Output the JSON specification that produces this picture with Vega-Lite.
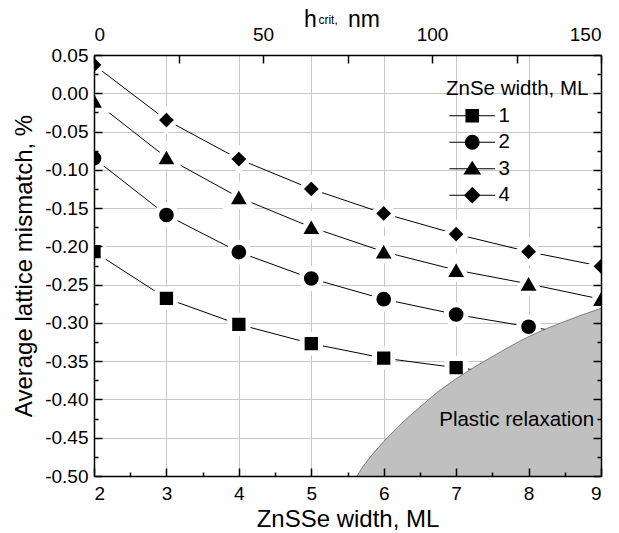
{
  "$schema": "https://vega.github.io/schema/vega-lite/v6.json",
  "width": 507,
  "height": 421,
  "autosize": {"type": "none"},
  "padding": {"left": 94, "top": 55, "right": 18, "bottom": 57},
  "background": "white",
  "config": {
    "view": {"stroke": null},
    "font": "Liberation Sans",
    "axis": {
      "domainColor": "black", "domainWidth": 1.5,
      "tickColor": "black", "tickWidth": 1.5,
      "labelColor": "black", "titleColor": "black",
      "labelFont": "Liberation Sans", "titleFont": "Liberation Sans",
      "labelFontSize": 19, "titleFontSize": 24, "titleFontWeight": "normal",
      "gridColor": "#c8c8c8", "gridWidth": 1
    },
    "text": {"font": "Liberation Sans", "color": "black"}
  },
  "datasets": {
    "series": [
      {"w": 2, "m": -0.207, "s": "1"}, {"w": 3, "m": -0.268, "s": "1"}, {"w": 4, "m": -0.302, "s": "1"}, {"w": 5, "m": -0.327, "s": "1"},
      {"w": 6, "m": -0.346, "s": "1"}, {"w": 7, "m": -0.3585, "s": "1"}, {"w": 8, "m": -0.369, "s": "1"}, {"w": 9, "m": -0.377, "s": "1"},
      {"w": 2, "m": -0.085, "s": "2"}, {"w": 3, "m": -0.159, "s": "2"}, {"w": 4, "m": -0.2075, "s": "2"}, {"w": 5, "m": -0.242, "s": "2"},
      {"w": 6, "m": -0.269, "s": "2"}, {"w": 7, "m": -0.289, "s": "2"}, {"w": 8, "m": -0.305, "s": "2"}, {"w": 9, "m": -0.32, "s": "2"},
      {"w": 2, "m": -0.01, "s": "3"}, {"w": 3, "m": -0.084, "s": "3"}, {"w": 4, "m": -0.136, "s": "3"}, {"w": 5, "m": -0.175, "s": "3"},
      {"w": 6, "m": -0.207, "s": "3"}, {"w": 7, "m": -0.231, "s": "3"}, {"w": 8, "m": -0.249, "s": "3"}, {"w": 9, "m": -0.269, "s": "3"},
      {"w": 2, "m": 0.037, "s": "4"}, {"w": 3, "m": -0.035, "s": "4"}, {"w": 4, "m": -0.086, "s": "4"}, {"w": 5, "m": -0.125, "s": "4"},
      {"w": 6, "m": -0.157, "s": "4"}, {"w": 7, "m": -0.184, "s": "4"}, {"w": 8, "m": -0.207, "s": "4"}, {"w": 9, "m": -0.226, "s": "4"}
    ],
    "relax": [
      {"w": 5.63, "m": -0.5}, {"w": 5.72, "m": -0.487}, {"w": 6.0, "m": -0.455}, {"w": 6.25, "m": -0.431},
      {"w": 6.5, "m": -0.41}, {"w": 6.75, "m": -0.39}, {"w": 7.0, "m": -0.373}, {"w": 7.5, "m": -0.344},
      {"w": 8.0, "m": -0.318}, {"w": 8.5, "m": -0.298}, {"w": 9.0, "m": -0.281}
    ],
    "htop": [{"h": 0}, {"h": 150}]
  },
  "layer": [
    {
      "data": {"name": "series"},
      "layer": [
        {
          "mark": {"type": "line", "color": "black", "strokeWidth": 1, "clip": true},
          "encoding": {
            "x": {"field": "w", "type": "quantitative", "scale": {"domain": [2, 9], "nice": false, "zero": false},
                  "axis": {"orient": "bottom", "values": [3, 4, 5, 6, 7, 8], "grid": true, "domain": false, "ticks": false, "labels": false, "title": null, "zindex": 0}},
            "y": {"field": "m", "type": "quantitative", "scale": {"domain": [-0.5, 0.05], "nice": false, "zero": false},
                  "axis": {"orient": "left", "values": [-0.45, -0.4, -0.35, -0.3, -0.25, -0.2, -0.15, -0.1, -0.05, 0], "grid": true, "domain": false, "ticks": false, "labels": false, "title": null, "zindex": 0}},
            "detail": {"field": "s"}
          }
        },
        {
          "mark": {"type": "point", "filled": true, "fill": "black", "stroke": "white", "strokeWidth": 5, "opacity": 1, "size": 400, "clip": true},
          "encoding": {
            "x": {"field": "w", "type": "quantitative", "scale": {"domain": [2, 9], "nice": false, "zero": false},
                  "axis": {"orient": "bottom", "values": [2, 3, 4, 5, 6, 7, 8, 9], "grid": false, "tickSize": -8, "labelPadding": 16, "title": "ZnSSe width, ML", "titlePadding": 4, "zindex": 1}},
            "y": {"field": "m", "type": "quantitative", "scale": {"domain": [-0.5, 0.05], "nice": false, "zero": false},
                  "axis": {"orient": "left", "values": [-0.5, -0.45, -0.4, -0.35, -0.3, -0.25, -0.2, -0.15, -0.1, -0.05, 0, 0.05], "grid": false, "tickSize": -8, "labelPadding": 14,
                           "labelExpr": "replace(format(datum.value, '.2f'), '\u2212', '-')", "title": "Average lattice mismatch, %", "titlePadding": 8, "zindex": 1}},
            "shape": {"field": "s", "type": "nominal", "legend": null,
                      "scale": {"domain": ["1", "2", "3", "4"],
                                "range": ["M-0.915,-0.915H0.915V0.915H-0.915Z",
                                          "M0.985,0A0.985,0.985,0,1,1,-0.985,0A0.985,0.985,0,1,1,0.985,0Z",
                                          "M0,-1.18L1.22,0.93L-1.22,0.93Z",
                                          "M0,-1.09L1.09,0L0,1.09L-1.09,0Z"]}}
          }
        },
        {
          "data": {"name": "relax"},
          "mark": {"type": "area", "fill": "#c0c0c0", "opacity": 1, "fillOpacity": 1, "interpolate": "monotone", "clip": true,
                   "line": {"stroke": "#666666", "strokeWidth": 0.8, "interpolate": "monotone"}},
          "encoding": {
            "x": {"field": "w", "type": "quantitative", "scale": {"domain": [2, 9], "nice": false, "zero": false},
                  "axis": {"orient": "bottom", "values": [2.5, 3.5, 4.5, 5.5, 6.5, 7.5, 8.5], "grid": false, "domain": false, "labels": false, "tickSize": -4, "title": null, "zindex": 1}},
            "y": {"field": "m", "type": "quantitative", "scale": {"domain": [-0.5, 0.05], "nice": false, "zero": false},
                  "axis": {"orient": "left", "values": [-0.475, -0.425, -0.375, -0.325, -0.275, -0.225, -0.175, -0.125, -0.075, -0.025, 0.025], "grid": false, "domain": false, "labels": false, "tickSize": -4, "title": null, "zindex": 1}},
            "y2": {"datum": -0.5}
          }
        },
        {
          "mark": {"type": "point", "filled": false, "fill": "black", "stroke": "black", "strokeWidth": 1.2, "opacity": 0},
          "encoding": {
            "x": {"field": "w", "type": "quantitative", "scale": {"domain": [2, 9], "nice": false, "zero": false}, "axis": null},
            "y": {"field": "m", "type": "quantitative", "scale": {"domain": [-0.5, 0.05], "nice": false, "zero": false},
                  "axis": {"orient": "right", "values": [-0.5, -0.45, -0.4, -0.35, -0.3, -0.25, -0.2, -0.15, -0.1, -0.05, 0, 0.05], "grid": false, "labels": false, "tickSize": -8, "title": null, "zindex": 1}},
            "shape": {"field": "s", "type": "nominal",
                      "scale": {"domain": ["1", "2", "3", "4"],
                                "range": ["M-3.5,0H3.5M-0.95,-0.95H0.95V0.95H-0.95Z",
                                          "M-3.5,0H3.5M1.05,0A1.05,1.05,0,1,1,-1.05,0A1.05,1.05,0,1,1,1.05,0Z",
                                          "M-3.5,0H3.5M0,-1.05L1.2,0.8L-1.2,0.8Z",
                                          "M-3.5,0H3.5M0,-1.15L1.15,0L0,1.15L-1.15,0Z"]},
                      "legend": {"title": "ZnSe width, ML", "orient": "none", "legendX": 352, "legendY": 24,
                                 "titleFontSize": 20.5, "labelFontSize": 20.5, "titleFont": "Liberation Sans", "labelFont": "Liberation Sans",
                                 "titleFontWeight": "normal", "titleColor": "black", "labelColor": "black",
                                 "symbolSize": 170, "symbolStrokeWidth": 1.2, "symbolOpacity": 1,
                                 "symbolOffset": 16, "labelOffset": 16, "rowPadding": 5.5, "titlePadding": 6, "padding": 0}}
          }
        },
        {
          "mark": {"type": "point", "opacity": 0},
          "encoding": {
            "x": {"field": "w", "type": "quantitative", "scale": {"domain": [2, 9], "nice": false, "zero": false}, "axis": null},
            "y": {"field": "m", "type": "quantitative", "scale": {"domain": [-0.5, 0.05], "nice": false, "zero": false},
                  "axis": {"orient": "right", "values": [-0.475, -0.425, -0.375, -0.325, -0.275, -0.225, -0.175, -0.125, -0.075, -0.025, 0.025], "grid": false, "domain": false, "labels": false, "tickSize": -4, "title": null, "zindex": 1}}
          }
        },
        {
          "data": {"values": [{"label": "Plastic relaxation"}]},
          "mark": {"type": "text", "fontSize": 20.5, "align": "center", "baseline": "middle"},
          "encoding": {
            "x": {"datum": 7.836, "type": "quantitative", "scale": {"domain": [2, 9], "nice": false, "zero": false}, "axis": null},
            "y": {"datum": -0.4267, "type": "quantitative", "scale": {"domain": [-0.5, 0.05], "nice": false, "zero": false}, "axis": null},
            "text": {"field": "label"}
          }
        },
        {
          "data": {"values": [{"label": "h"}]},
          "mark": {"type": "text", "fontSize": 23, "align": "left", "baseline": "alphabetic"},
          "encoding": {
            "x": {"datum": 4.899, "type": "quantitative", "scale": {"domain": [2, 9], "nice": false, "zero": false}, "axis": null},
            "y": {"datum": 0.0863, "type": "quantitative", "scale": {"domain": [-0.5, 0.05], "nice": false, "zero": false}, "axis": null},
            "text": {"field": "label"}
          }
        },
        {
          "data": {"values": [{"label": "crit,"}]},
          "mark": {"type": "text", "fontSize": 12, "align": "left", "baseline": "alphabetic"},
          "encoding": {
            "x": {"datum": 5.098, "type": "quantitative", "scale": {"domain": [2, 9], "nice": false, "zero": false}, "axis": null},
            "y": {"datum": 0.0905, "type": "quantitative", "scale": {"domain": [-0.5, 0.05], "nice": false, "zero": false}, "axis": null},
            "text": {"field": "label"}
          }
        },
        {
          "data": {"values": [{"label": "nm"}]},
          "mark": {"type": "text", "fontSize": 23, "align": "left", "baseline": "alphabetic"},
          "encoding": {
            "x": {"datum": 5.507, "type": "quantitative", "scale": {"domain": [2, 9], "nice": false, "zero": false}, "axis": null},
            "y": {"datum": 0.0863, "type": "quantitative", "scale": {"domain": [-0.5, 0.05], "nice": false, "zero": false}, "axis": null},
            "text": {"field": "label"}
          }
        }
      ],
      "resolve": {
        "axis": {"x": "independent", "y": "independent"},
        "scale": {"shape": "independent"},
        "legend": {"shape": "independent"}
      }
    },
    {
      "data": {"name": "htop"},
      "mark": {"type": "point", "opacity": 0},
      "encoding": {
        "x": {"field": "h", "type": "quantitative", "scale": {"domain": [0, 150], "nice": false, "zero": false},
              "axis": {"orient": "top", "values": [0, 25, 50, 75, 100, 125, 150], "labelExpr": "datum.value % 50 === 0 ? datum.label : ''",
                       "grid": false, "tickSize": -8, "labelPadding": 19, "title": null, "zindex": 1}}
      }
    }
  ],
  "resolve": {
    "scale": {"x": "independent"},
    "axis": {"x": "independent", "y": "independent"}
  }
}
